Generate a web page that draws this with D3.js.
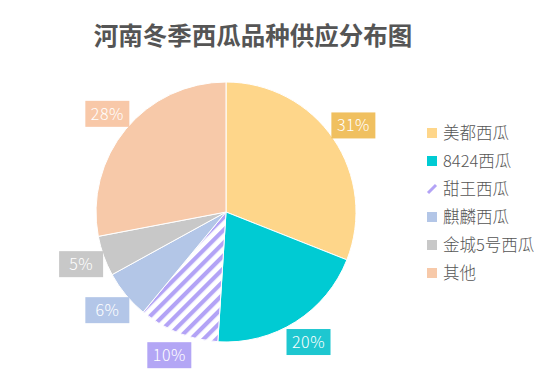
<!DOCTYPE html>
<html><head><meta charset="utf-8">
<script src="https://cdn.jsdelivr.net/npm/d3@7/dist/d3.min.js"></script>
<style>
html,body{margin:0;padding:0;background:#fff;}
svg{display:block;font-family:"Noto Sans CJK SC","Noto Sans",sans-serif;}
</style></head>
<body><svg id="chart" width="549" height="378"></svg>
<script>
const categories = ["美都西瓜","8424西瓜","甜王西瓜","麒麟西瓜","金城5号西瓜","其他"];
const values = [31,20,10,6,5,28];
const labels = ["31%","20%","10%","6%","5%","28%"];
const title = "河南冬季西瓜品种供应分布图";

const sliceColors = ["#fed68a","#00cbd3","#b3a3f6","#b3c6e7","#c8c8c8","#f7c9a9"];
const boxColors   = ["#f0c060","#1ec7d0","#b3a6f5","#b3c6e8","#c8c8c8","#f8c8a8"];

const svg = d3.select("#chart");
const cx = 226, cy = 212, R = 130;

const defs = svg.append("defs");
const pat = defs.append("pattern").attr("id","hatch").attr("patternUnits","userSpaceOnUse")
  .attr("width",9).attr("height",9).attr("patternTransform","rotate(45)");
pat.append("rect").attr("width",9).attr("height",9).attr("fill","#fff");
pat.append("rect").attr("x",0).attr("y",0).attr("width",4.2).attr("height",9).attr("fill","#b3a3f6");

svg.append("text").attr("x",253).attr("y",45).attr("text-anchor","middle")
  .attr("font-size",24.5).attr("font-weight","bold").attr("fill","#555").text(title);

const data = categories.map((c,i)=>({name:c,value:values[i],label:labels[i],i}));
const pie = d3.pie().value(d=>d.value).sort(null);
const arcs = pie(data);
const arc = d3.arc().innerRadius(0).outerRadius(R);
const labelArc = d3.arc().innerRadius(154).outerRadius(154);

const g = svg.append("g").attr("transform",`translate(${cx},${cy})`);
g.selectAll("path").data(arcs).join("path")
  .attr("d",arc)
  .attr("fill",d=>d.data.i===2?"url(#hatch)":sliceColors[d.data.i])
  .attr("stroke","#fff").attr("stroke-width",1);

const lg = g.selectAll("g.lab").data(arcs).join("g").attr("class","lab")
  .attr("transform",d=>{const [x,y]=labelArc.centroid(d);return `translate(${x},${y})`;});
lg.append("rect").attr("x",-22).attr("y",-13).attr("width",44).attr("height",26)
  .attr("fill",d=>boxColors[d.data.i]);
lg.append("text").attr("text-anchor","middle").attr("dy","0.36em").attr("font-size",16)
  .attr("font-weight",300).attr("letter-spacing",0.5)
  .attr("fill","#fff").text(d=>d.data.label);

const leg = svg.append("g").attr("transform","translate(427,133)");
const items = leg.selectAll("g").data(data).join("g").attr("transform",(d,i)=>`translate(0,${i*28})`);
items.each(function(d){
  const s = d3.select(this);
  if(d.i===2){
    s.append("line").attr("x1",1).attr("y1",4).attr("x2",9).attr("y2",-4)
      .attr("stroke","#b3a3f6").attr("stroke-width",3);
  } else {
    s.append("rect").attr("x",0).attr("y",-5).attr("width",10).attr("height",10).attr("fill",sliceColors[d.i]);
  }
});
items.append("text").attr("x",16).attr("dy","0.36em").attr("font-size",16.5)
  .attr("font-weight",300).attr("fill","#555").text(d=>d.name);
</script></body></html>
